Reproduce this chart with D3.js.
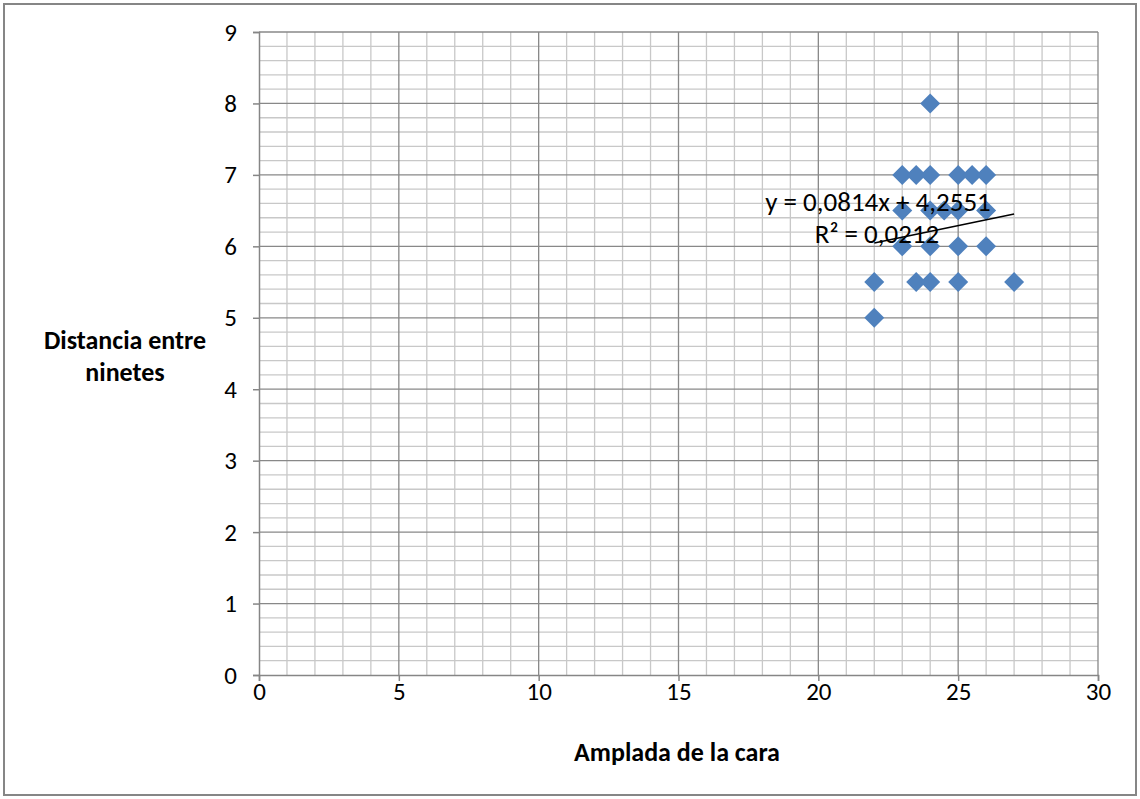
<!DOCTYPE html>
<html>
<head>
<meta charset="utf-8">
<script src="https://cdn.jsdelivr.net/npm/d3@7"></script>
<style>
  body { margin: 0; background: #fff; }
  text { font-family: Carlito, Calibri, Lato, "Open Sans", sans-serif; }
</style>
</head>
<body>
<svg id="chart" width="1140" height="799"></svg>
<script>
// Data
const amplada = [24, 23, 23.5, 24, 25, 25.5, 26, 23, 24, 24.5, 25, 26, 23, 24, 25, 26, 22, 23.5, 24, 25, 27, 22];
const distancia = [8, 7, 7, 7, 7, 7, 7, 6.5, 6.5, 6.5, 6.5, 6.5, 6, 6, 6, 6, 5.5, 5.5, 5.5, 5.5, 5.5, 5];
const xTicks = [0, 5, 10, 15, 20, 25, 30];
const yTicks = [0, 1, 2, 3, 4, 5, 6, 7, 8, 9];
const trendSlope = 0.0814;
const trendIntercept = 4.2551;
const trendRange = [22, 27];
const eqLabel = "y = 0,0814x + 4,2551";
const r2Label = "R² = 0,0212";
const xTitle = "Amplada de la cara";
const yTitle = ["Distancia entre", "ninetes"];

const svg = d3.select("#chart");

// Outer frame
svg.append("rect")
    .attr("x", 4).attr("y", 4)
    .attr("width", 1132).attr("height", 791)
    .attr("fill", "#fff")
    .attr("stroke", "#868686")
    .attr("stroke-width", 2);

const x = d3.scaleLinear().domain([0, 30]).range([259, 1098]);
const y = d3.scaleLinear().domain([0, 9]).range([675, 32]);

// Minor grid (x every 1, y every 0.2)
const grid = svg.append("g");
grid.selectAll("line.vminor")
    .data(d3.range(1, 30).filter(d => d % 5 !== 0))
    .join("line")
        .attr("x1", d => x(d)).attr("x2", d => x(d))
        .attr("y1", y(9)).attr("y2", y(0))
        .attr("stroke", "#c8c8c8").attr("stroke-width", 1.3);
grid.selectAll("line.hminor")
    .data(d3.range(1, 45).map(d => d / 5).filter(d => Math.abs(d - Math.round(d)) > 1e-6))
    .join("line")
        .attr("x1", x(0)).attr("x2", x(30))
        .attr("y1", d => y(d)).attr("y2", d => y(d))
        .attr("stroke", "#c8c8c8").attr("stroke-width", 1.3);

// Major grid
grid.append("g").selectAll("line")
    .data(xTicks.slice(1))
    .join("line")
        .attr("x1", d => x(d)).attr("x2", d => x(d))
        .attr("y1", y(9)).attr("y2", y(0))
        .attr("stroke", "#888").attr("stroke-width", 1.3);
grid.append("g").selectAll("line")
    .data(yTicks.slice(1))
    .join("line")
        .attr("x1", x(0)).attr("x2", x(30))
        .attr("y1", d => y(d)).attr("y2", d => y(d))
        .attr("stroke", "#888").attr("stroke-width", 1.3);

// Axes
const xAxis = svg.append("g")
    .attr("transform", `translate(0,${y(0)})`)
    .call(d3.axisBottom(x).tickValues(xTicks).tickSize(6).tickPadding(1).tickFormat(d3.format("d")));
const yAxis = svg.append("g")
    .attr("transform", `translate(${x(0)},0)`)
    .call(d3.axisLeft(y).tickValues(yTicks).tickSize(6).tickPadding(16).tickFormat(d3.format("d")));
[xAxis, yAxis].forEach(a => {
    a.attr("font-size", null);
    a.select(".domain").attr("stroke", "#868686").attr("stroke-width", 1.5);
    a.selectAll(".tick line").attr("stroke", "#868686").attr("stroke-width", 1.5);
    a.selectAll(".tick text")
        .attr("font-size", 25)
        .attr("fill", "#000")
        .style("font-family", "Carlito, Calibri, Lato, 'Open Sans', sans-serif");
});

// Points (diamonds)
svg.append("g").selectAll("path")
    .data(amplada.map((a, i) => ({ a, d: distancia[i] })))
    .join("path")
        .attr("d", d3.symbol().type(d3.symbolSquare).size(200))
        .attr("transform", d => `translate(${x(d.a)},${y(d.d)}) rotate(45)`)
        .attr("fill", "#4f81bd");

// Linear trendline
svg.append("line")
    .attr("x1", x(trendRange[0])).attr("y1", y(trendSlope * trendRange[0] + trendIntercept))
    .attr("x2", x(trendRange[1])).attr("y2", y(trendSlope * trendRange[1] + trendIntercept))
    .attr("stroke", "#000").attr("stroke-width", 1.5);

// Equation labels
svg.append("text")
    .attr("x", 878).attr("y", 211)
    .attr("text-anchor", "middle")
    .attr("font-size", 27)
    .text(eqLabel);
svg.append("text")
    .attr("x", 877).attr("y", 243)
    .attr("text-anchor", "middle")
    .attr("font-size", 27)
    .text(r2Label);

// Axis titles
svg.append("text")
    .attr("x", 677).attr("y", 761)
    .attr("text-anchor", "middle")
    .attr("font-size", 26)
    .attr("font-weight", "bold")
    .text(xTitle);
svg.append("g").selectAll("text")
    .data(yTitle)
    .join("text")
        .attr("x", 125)
        .attr("y", (d, i) => 349 + i * 32)
        .attr("text-anchor", "middle")
        .attr("font-size", 26)
        .attr("font-weight", "bold")
        .text(d => d);
</script>
</body>
</html>
